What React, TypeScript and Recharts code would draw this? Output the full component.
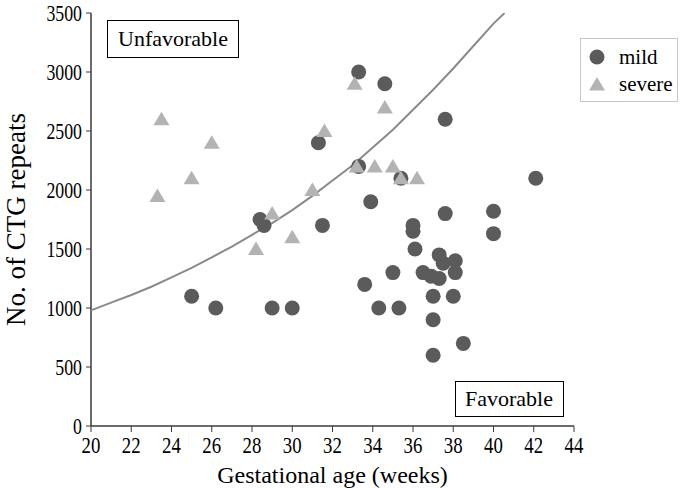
import { Customized, Legend, Scatter, ScatterChart, XAxis, YAxis } from "recharts";

// mild cases (dark circles)
const mildWeeks = [
  25, 26.2, 28.4, 28.6, 29, 30, 31.3, 31.5, 33.3, 33.3, 33.6, 33.9, 34.3, 34.6, 35, 35.3, 35.4,
  36, 36, 36.1, 36.5, 36.9, 37, 37, 37, 37.3, 37.3, 37.5, 37.6, 37.6, 38, 38.1, 38.1, 38.5, 40, 40, 42.1,
];
const mildRepeats = [
  1100, 1000, 1750, 1700, 1000, 1000, 2400, 1700, 3000, 2200, 1200, 1900, 1000, 2900, 1300, 1000, 2100,
  1700, 1650, 1500, 1300, 1270, 1100, 900, 600, 1450, 1250, 1380, 2600, 1800, 1100, 1400, 1300, 700, 1820, 1630, 2100,
];

// severe cases (light triangles)
const severeWeeks = [23.3, 23.5, 25, 26, 28.2, 29, 30, 31, 31.6, 33.1, 33.2, 34.1, 34.6, 35, 35.4, 36.2];
const severeRepeats = [1950, 2600, 2100, 2400, 1500, 1800, 1600, 2000, 2500, 2900, 2200, 2200, 2700, 2200, 2100, 2100];

// boundary curve
const curveWeeks = [20, 21, 22, 23, 24, 25, 26, 27, 28, 29, 30, 31, 32, 33, 34, 35, 36, 37, 38, 39, 40, 40.55];
const curveRepeats = [
  980, 1045, 1110, 1180, 1260, 1340, 1430, 1520, 1620, 1720, 1830, 1950, 2080, 2210, 2360, 2510, 2680, 2850,
  3030, 3220, 3410, 3500,
];

const xTicks = [20, 22, 24, 26, 28, 30, 32, 34, 36, 38, 40, 42, 44];
const yTicks = [0, 500, 1000, 1500, 2000, 2500, 3000, 3500];

const mildData = mildWeeks.map((x, i) => ({ x, y: mildRepeats[i] }));
const severeData = severeWeeks.map((x, i) => ({ x, y: severeRepeats[i] }));
const curveData = curveWeeks.map((x, i) => ({ x, y: curveRepeats[i] }));

const FONT = "'Liberation Serif', 'Times New Roman', serif";
const MILD = "#5b5b5b";
const SEVERE = "#b3b3b3";
const AXIS = "#3a3a3a";

const Circle = (p: any) => <circle cx={p.cx} cy={p.cy} r={7.5} fill={MILD} />;
const Triangle = (p: any) => (
  <polygon
    points={`${p.cx},${p.cy - 7.5} ${p.cx + 8},${p.cy + 6} ${p.cx - 8},${p.cy + 6}`}
    fill={SEVERE}
  />
);
const NoDot = () => <g />;

const XTick = ({ x, y, payload }: any) => {
  const s = String(payload.value);
  return (
    <text x={x} y={y} dy={19} textAnchor="middle" fontFamily={FONT} fontSize={24} fill="#000"
      textLength={s.length * 9.4} lengthAdjust="spacingAndGlyphs">
      {s}
    </text>
  );
};

const YTick = ({ x, y, payload }: any) => {
  const s = String(payload.value);
  return (
    <text x={x} y={y} dy={8} textAnchor="end" fontFamily={FONT} fontSize={24} fill="#000"
      textLength={s.length * 8.9} lengthAdjust="spacingAndGlyphs">
      {s}
    </text>
  );
};

const LegendBox = () => (
  <div
    style={{
      width: 96,
      height: 62,
      border: "1px solid #c8c8c8",
      background: "#fff",
      position: "relative",
    }}
  >
    <svg width={96} height={62} style={{ position: "absolute", left: 0, top: 0 }}>
      <circle cx={16} cy={18} r={7.5} fill={MILD} />
      <polygon points="16,38 24,51.5 8,51.5" fill={SEVERE} />
      <text x={38} y={25} fontFamily={FONT} fontSize={21}>mild</text>
      <text x={38} y={52} fontFamily={FONT} fontSize={21}>severe</text>
    </svg>
  </div>
);

const Notes = () => (
  <g fontFamily={FONT} fontSize={22} fill="#000">
    <rect x={107.5} y={20.5} width={131} height={37} fill="#fff" stroke="#000" strokeWidth={1} />
    <text x={173} y={46} textAnchor="middle">Unfavorable</text>
    <rect x={455.5} y={381.5} width={108} height={35} fill="#fff" stroke="#000" strokeWidth={1} />
    <text x={509} y={406} textAnchor="middle">Favorable</text>
  </g>
);

export default function App() {
  return (
    <div style={{ position: "absolute", left: 0, top: 0, background: "#fff" }}>
      <ScatterChart width={685} height={488} margin={{ top: 13, right: 111, bottom: 0, left: 0 }}>
        <XAxis
          type="number"
          dataKey="x"
          domain={[20, 44]}
          ticks={xTicks}
          interval={0}
          tick={<XTick />}
          tickSize={6}
          tickMargin={2}
          axisLine={{ stroke: AXIS, strokeWidth: 1.5 }}
          tickLine={{ stroke: AXIS }}
          height={62}
          label={{
            value: "Gestational age (weeks)",
            position: "insideBottom",
            offset: 5,
            style: { fontFamily: FONT, fontSize: 24, fill: "#000" },
          }}
        />
        <YAxis
          type="number"
          dataKey="y"
          domain={[0, 3500]}
          ticks={yTicks}
          interval={0}
          allowDataOverflow
          tick={<YTick />}
          tickSize={5}
          tickMargin={4}
          axisLine={{ stroke: AXIS, strokeWidth: 1.5 }}
          tickLine={{ stroke: AXIS }}
          width={91}
          label={{
            value: "No. of CTG repeats",
            angle: -90,
            position: "insideLeft",
            offset: 0,
            style: { fontFamily: FONT, fontSize: 27, fill: "#000", textAnchor: "middle" },
            dx: 15,
          }}
        />
        <Legend
          layout="vertical"
          align="center"
          verticalAlign="middle"
          content={<LegendBox />}
          wrapperStyle={{ left: 580, top: 38, width: 98, height: 64 }}
        />
        <Scatter
          name="curve"
          data={curveData}
          line={{ stroke: "#8a8a8a", strokeWidth: 2 }}
          shape={<NoDot />}
          legendType="none"
          isAnimationActive={false}
        />
        <Scatter name="mild" data={mildData} shape={<Circle />} isAnimationActive={false} />
        <Scatter name="severe" data={severeData} shape={<Triangle />} isAnimationActive={false} />
        <Customized component={<Notes />} />
      </ScatterChart>
    </div>
  );
}
